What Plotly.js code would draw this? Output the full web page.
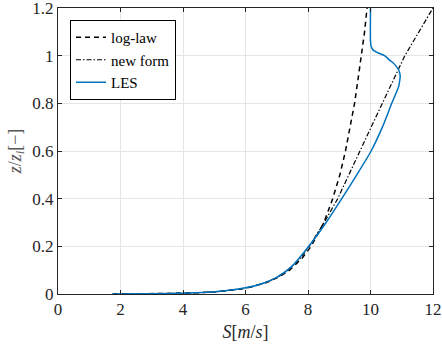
<!DOCTYPE html>
<html>
<head>
<meta charset="utf-8">
<script src="https://cdn.plot.ly/plotly-3.0.1.min.js"></script>
<style>html,body{margin:0;padding:0;background:#fff;}#chart{width:442px;height:349px;}</style>
</head>
<body>
<div id="chart"></div>
<script>
// log-law (dashed)
const logLawZ = [0.00035, 0.0005, 0.001, 0.002, 0.005, 0.01, 0.02, 0.03, 0.05, 0.075, 0.1, 0.15, 0.2, 0.3, 0.4, 0.5, 0.6, 0.7, 0.8, 0.9, 1.0, 1.1, 1.2];
const logLawS = [1.75, 2.11, 2.80, 3.50, 4.41, 5.10, 5.80, 6.20, 6.71, 7.12, 7.41, 7.81, 8.10, 8.51, 8.79, 9.02, 9.20, 9.35, 9.49, 9.60, 9.71, 9.81, 9.89];
// new form (dash-dot)
const newFormZ = [0.00035, 0.0005, 0.001, 0.002, 0.005, 0.01, 0.02, 0.03, 0.05, 0.075, 0.1, 0.15, 0.2, 0.3, 0.4, 0.5, 0.6, 0.7, 0.8, 0.9, 1.0, 1.1, 1.2];
const newFormS = [1.75, 2.11, 2.80, 3.50, 4.41, 5.10, 5.78, 6.18, 6.70, 7.08, 7.36, 7.75, 8.04, 8.52, 8.95, 9.30, 9.66, 10.02, 10.38, 10.74, 11.10, 11.55, 12.0];
// LES (solid)
const lesZ = [0.0003, 0.0006, 0.001, 0.003, 0.009, 0.026, 0.042, 0.07, 0.118, 0.196, 0.3, 0.4, 0.5, 0.6, 0.7, 0.8, 0.85, 0.87, 0.9, 0.912, 0.93, 0.943, 0.954, 0.97, 0.98, 1.0, 1.01, 1.02, 1.03, 1.04, 1.06, 1.2];
const lesS = [1.75, 2.5, 3.0, 4.0, 5.0, 6.0, 6.5, 7.0, 7.5, 8.0, 8.58, 9.08, 9.56, 10.02, 10.38, 10.68, 10.84, 10.90, 10.94, 10.95, 10.93, 10.89, 10.83, 10.72, 10.62, 10.45, 10.27, 10.12, 10.05, 10.02, 10.0, 10.0];

const xTicks = [0, 2, 4, 6, 8, 10, 12];
const yTicks = [0, 0.2, 0.4, 0.6, 0.8, 1, 1.2];
const yTickText = ['0', '0.2', '0.4', '0.6', '0.8', '1', '1.2'];

const FONT = '"Liberation Serif", "DejaVu Serif", serif';

const traces = [
  {x: logLawS, y: logLawZ, mode: 'lines', name: 'log-law', line: {color: '#000000', width: 1.5, dash: '5px,4px'}},
  {x: newFormS, y: newFormZ, mode: 'lines', name: 'new form', line: {color: '#000000', width: 1.2, dash: '5px,2px,1.5px,2px'}},
  {x: lesS, y: lesZ, mode: 'lines', name: 'LES', line: {color: '#0072BD', width: 1.5, shape: 'spline', smoothing: 0.6}}
];

const axisCommon = {
  showline: true, mirror: 'ticks', linecolor: '#262626', linewidth: 1,
  ticks: 'inside', ticklen: 4, tickcolor: '#262626', tickwidth: 1,
  showgrid: true, gridcolor: '#e5e5e5', gridwidth: 1, zeroline: false,
  ticklabeloverflow: 'allow',
  tickfont: {family: FONT, size: 17, color: '#262626'}
};

const layout = {
  width: 442, height: 349,
  margin: {l: 58, r: 9, t: 8, b: 55},
  paper_bgcolor: '#ffffff', plot_bgcolor: '#ffffff',
  showlegend: true,
  xaxis: Object.assign({}, axisCommon, {
    range: [0, 12], tickvals: xTicks, ticktext: xTicks.map(String),
    title: {text: '<i>S</i>[<i>m</i>/<i>s</i>]', font: {family: FONT, size: 18, color: '#262626'}, standoff: 6}
  }),
  yaxis: Object.assign({}, axisCommon, {
    range: [0, 1.2], tickvals: yTicks, ticktext: yTickText,
    title: {text: '<i>z</i>/<i>z<sub>i</sub></i>[−]', font: {family: FONT, size: 18, color: '#555555'}, standoff: 6}
  }),
  legend: {
    x: 0.032, y: 0.958, xanchor: 'left', yanchor: 'top',
    bgcolor: '#ffffff', bordercolor: '#000000', borderwidth: 1,
    font: {family: FONT, size: 15, color: '#000000'},
    tracegroupgap: 0, itemwidth: 30
  }
};

Plotly.newPlot('chart', traces, layout, {displayModeBar: false, staticPlot: true});
</script>
</body>
</html>
